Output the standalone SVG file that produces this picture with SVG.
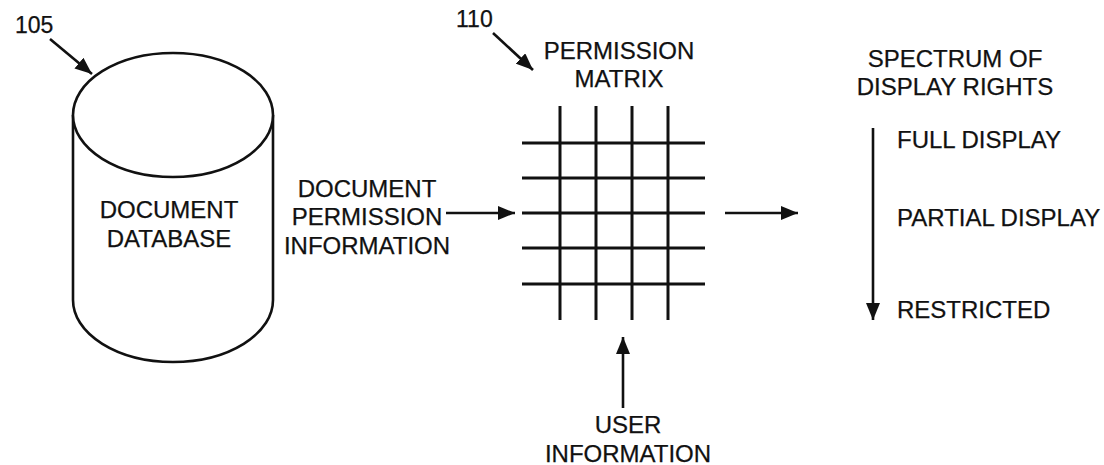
<svg xmlns="http://www.w3.org/2000/svg" width="1104" height="465" viewBox="0 0 1104 465">
<style>
text{font-family:"Liberation Sans",Arial,sans-serif;font-size:24px;fill:#111;stroke:#111;stroke-width:0.25}
.c{text-anchor:middle}
.shape{fill:#fff;stroke:#111;stroke-width:2.6}
.grid line{stroke:#111;stroke-width:3}
.conn{stroke:#111;stroke-width:2.6;fill:none}
</style>
<defs>
<marker id="ah" markerUnits="userSpaceOnUse" markerWidth="18" markerHeight="14" refX="17" refY="7" orient="auto">
<path d="M0,0 L17,7 L0,14 z" fill="#111"/>
</marker>
</defs>
<rect width="1104" height="465" fill="#fff"/>
<g id="database">
<path class="shape" d="M73,115 L73,300 A100,62 0 0 0 273,300 L273,115"/>
<ellipse class="shape" cx="173" cy="115" rx="100" ry="62"/>
<text class="c" x="169" y="218">DOCUMENT</text>
<text class="c" x="169" y="247">DATABASE</text>
</g>
<g id="ref105">
<text x="15" y="33" style="font-size:23px">105</text>
</g>
<g id="ref110">
<text x="456" y="27" style="font-size:23px">110</text>
</g>
<g id="matrix">
<text class="c" x="619" y="59">PERMISSION</text>
<text class="c" x="619" y="87">MATRIX</text>
<g class="grid">
<line x1="560" y1="106" x2="560" y2="320"/>
<line x1="596" y1="106" x2="596" y2="320"/>
<line x1="632" y1="106" x2="632" y2="320"/>
<line x1="668" y1="106" x2="668" y2="320"/>
<line x1="522" y1="143" x2="705" y2="143"/>
<line x1="522" y1="178" x2="705" y2="178"/>
<line x1="522" y1="213" x2="705" y2="213"/>
<line x1="522" y1="248" x2="705" y2="248"/>
<line x1="522" y1="284" x2="705" y2="284"/>
</g>
</g>
<g id="doc-permission-info">
<text class="c" x="367" y="197">DOCUMENT</text>
<text class="c" x="367" y="225">PERMISSION</text>
<text class="c" x="367" y="254">INFORMATION</text>
</g>
<g id="user-info">
<text class="c" x="628" y="433">USER</text>
<text class="c" x="628" y="462">INFORMATION</text>
</g>
<g id="spectrum">
<text class="c" x="955" y="67">SPECTRUM OF</text>
<text class="c" x="955" y="95">DISPLAY RIGHTS</text>
<text x="897" y="148">FULL DISPLAY</text>
<text x="897" y="226">PARTIAL DISPLAY</text>
<text x="897" y="318">RESTRICTED</text>
</g>
<g id="connectors">
<line class="conn" x1="50" y1="39" x2="92" y2="74" marker-end="url(#ah)"/>
<line class="conn" x1="493" y1="33" x2="533" y2="70" marker-end="url(#ah)"/>
<line class="conn" x1="446" y1="213" x2="515" y2="213" marker-end="url(#ah)"/>
<line class="conn" x1="725" y1="213" x2="798" y2="213" marker-end="url(#ah)"/>
<line class="conn" x1="623" y1="408" x2="623" y2="337" marker-end="url(#ah)"/>
<line class="conn" x1="873" y1="128" x2="873" y2="320" marker-end="url(#ah)"/>
</g>
</svg>
